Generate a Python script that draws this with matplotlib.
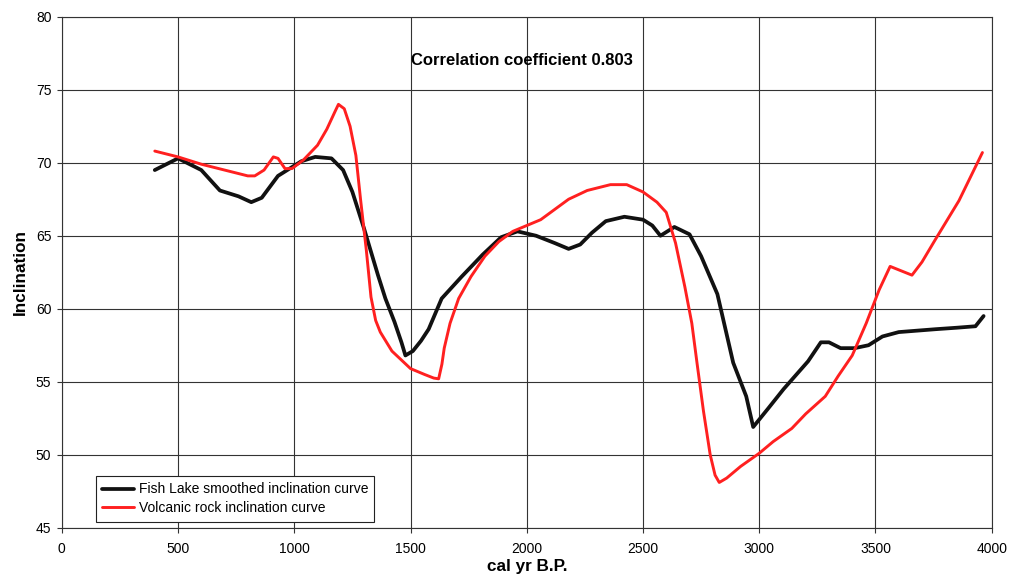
import numpy as np
import matplotlib.pyplot as plt

plt.rcParams['font.family'] = ['Liberation Sans', 'DejaVu Sans']

# Fish Lake smoothed inclination (cal yr B.P., degrees)
lake_age = [400, 500, 600, 680, 760, 815, 860, 930, 1030, 1090, 1160, 1210,
            1250, 1300, 1360, 1392, 1431, 1461, 1478, 1510, 1545, 1578, 1634,
            1720, 1810, 1890, 1960, 2040, 2120, 2180, 2230, 2280, 2340, 2420,
            2500, 2540, 2575, 2635, 2700, 2750, 2820, 2888, 2944, 2974, 3040,
            3105, 3210, 3265, 3300, 3350, 3410, 3470, 3530, 3600, 3680, 3760,
            3850, 3930, 3965]
lake_inc = [69.5, 70.3, 69.5, 68.1, 67.7, 67.3, 67.6, 69.1, 70.1, 70.4, 70.3, 69.5,
            68.0, 65.5, 62.3, 60.7, 59.1, 57.7, 56.8, 57.1, 57.8, 58.6, 60.7,
            62.2, 63.7, 64.9, 65.3, 65.0, 64.5, 64.1, 64.4, 65.2, 66.0, 66.3,
            66.1, 65.7, 65.0, 65.6, 65.1, 63.6, 61.0, 56.3, 54.0, 51.9, 53.2,
            54.5, 56.4, 57.7, 57.7, 57.3, 57.3, 57.5, 58.1, 58.4, 58.5, 58.6,
            58.7, 58.8, 59.5]

# Volcanic rock inclination
rock_age = [400, 500, 600, 700, 800, 830, 870, 910, 930, 960, 990, 1040, 1100,
            1140, 1175, 1190, 1215, 1240, 1265, 1285, 1310, 1330, 1350, 1370,
            1420, 1500, 1560, 1600, 1621, 1635, 1645, 1670, 1707, 1760, 1820,
            1880, 1940, 2000, 2060, 2120, 2180, 2260, 2360, 2430, 2500, 2560,
            2600, 2640, 2680, 2710, 2733, 2760, 2789, 2810, 2828, 2860, 2920,
            3000, 3060, 3140, 3200, 3284, 3340, 3400, 3460, 3516, 3563, 3610,
            3657, 3700, 3756, 3859, 3960]
rock_inc = [70.8, 70.4, 69.9, 69.5, 69.1, 69.1, 69.5, 70.4, 70.3, 69.6, 69.6, 70.2, 71.2,
            72.3, 73.5, 74.0, 73.7, 72.5, 70.5, 67.5, 64.0, 60.8, 59.2, 58.4,
            57.1, 55.9, 55.5, 55.25, 55.2, 56.2, 57.3, 59.0, 60.7, 62.2, 63.6,
            64.6, 65.3, 65.7, 66.1, 66.8, 67.5, 68.1, 68.5, 68.5, 68.0, 67.3,
            66.6, 64.5, 61.5, 59.0, 56.2, 53.0, 50.0, 48.6, 48.1, 48.4, 49.2,
            50.1, 50.9, 51.8, 52.8, 54.0, 55.4, 56.8, 59.0, 61.3, 62.9, 62.6,
            62.3, 63.2, 64.7, 67.4, 70.7]

x_ticks = np.arange(0, 4001, 500)
y_ticks = np.arange(45, 81, 5)

fig = plt.figure(figsize=(10.13, 5.78), dpi=100)
ax = fig.add_axes([0.061, 0.087, 0.918, 0.884])

ax.plot(lake_age, lake_inc, color='#111111', lw=2.7, solid_joinstyle='round',
        solid_capstyle='round', label='Fish Lake smoothed inclination curve', zorder=3)
ax.plot(rock_age, rock_inc, color='#ff2020', lw=2.1, solid_joinstyle='round',
        solid_capstyle='round', label='Volcanic rock inclination curve', zorder=3)

ax.set_xlim(0, 4000)
ax.set_ylim(45, 80)
ax.set_xticks(x_ticks)
ax.set_yticks(y_ticks)
ax.grid(True, color='#333333', lw=0.8)
ax.set_axisbelow(True)
for s in ax.spines.values():
    s.set_color('#333333')
    s.set_linewidth(0.8)
ax.tick_params(direction='out', length=3.5, width=0.8, color='#333333',
               labelsize=10, pad=4)
ax.tick_params(axis='x', pad=7)

ax.set_xlabel('cal yr B.P.', fontsize=12.3, fontweight='bold', labelpad=2)
ax.set_ylabel('Inclination', fontsize=12.3, fontweight='bold', labelpad=6)

ax.text(1980, 77.0, 'Correlation coefficient 0.803', fontsize=12,
        fontweight='bold', ha='center', va='center')

leg = ax.legend(loc='lower left', bbox_to_anchor=(0.037, 0.012), fontsize=10,
                fancybox=False, framealpha=1, edgecolor='#222222',
                handlelength=2.3, handletextpad=0.3, borderpad=0.45,
                labelspacing=0.35, borderaxespad=0)
leg.get_frame().set_linewidth(0.8)

fig.savefig('out.png', dpi=100, facecolor='white')
